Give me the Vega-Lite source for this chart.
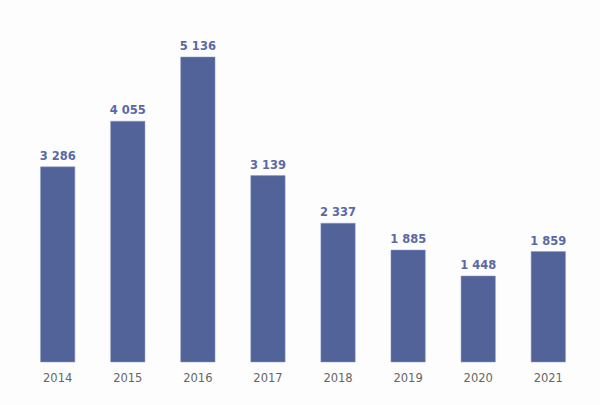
{
  "$schema": "https://vega.github.io/schema/vega-lite/v6.json",
  "width": 560,
  "height": 305,
  "autosize": "none",
  "padding": {"left": 23, "top": 57, "right": 17, "bottom": 43},
  "background": "#fdfdfd",
  "config": {
    "view": {"stroke": null},
    "locale": {"number": {"decimal": ",", "thousands": " ", "grouping": [3], "currency": ["", ""]}}
  },
  "data": {"values": [
    {"year": "2014", "value": 3286},
    {"year": "2015", "value": 4055},
    {"year": "2016", "value": 5136},
    {"year": "2017", "value": 3139},
    {"year": "2018", "value": 2337},
    {"year": "2019", "value": 1885},
    {"year": "2020", "value": 1448},
    {"year": "2021", "value": 1859}
  ]},
  "encoding": {
    "x": {"field": "year", "type": "ordinal", "title": null,
      "scale": {"paddingInner": 0.51, "paddingOuter": 0.25},
      "axis": {"labelAngle": 0, "domain": false, "ticks": false, "labelPadding": 10, "labelFont": "DejaVu Sans", "labelFontSize": 11.5, "labelColor": "#666666"}},
    "y": {"field": "value", "type": "quantitative", "scale": {"domain": [0, 5136], "nice": false}, "axis": null}
  },
  "layer": [
    {"mark": {"type": "bar", "color": "#52639a", "stroke": "#8a98c8", "strokeWidth": 0.5}},
    {"mark": {"type": "text", "baseline": "bottom", "dy": -5, "font": "DejaVu Sans", "fontSize": 11.5, "fontWeight": "bold", "color": "#5a69a5"},
     "encoding": {"text": {"field": "value", "type": "quantitative", "format": ",d"}}}
  ]
}
